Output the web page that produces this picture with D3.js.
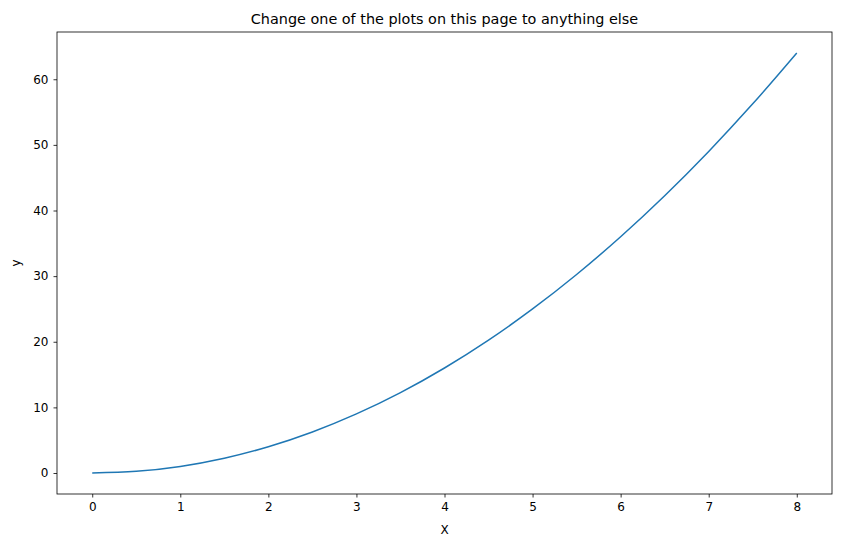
<!DOCTYPE html>
<html>
<head>
<meta charset="utf-8">
<script src="https://d3js.org/d3.v7.min.js"></script>
<style>
  body { margin: 0; background: #fff; }
  text { font-family: "DejaVu Sans", sans-serif; }
</style>
</head>
<body>
<svg width="841" height="547"></svg>
<script>
// values
var xVals = [0, 0.5, 1, 1.5, 2, 2.5, 3, 3.5, 4, 4.5, 5, 5.5, 6, 6.5, 7, 7.5, 8];
var yVals = [0, 0.25, 1, 2.25, 4, 6.25, 9, 12.25, 16, 20.25, 25, 30.25, 36, 42.25, 49, 56.25, 64];
var xTicks = [0, 1, 2, 3, 4, 5, 6, 7, 8];
var yTicks = [0, 10, 20, 30, 40, 50, 60];

var svg = d3.select("svg");
var pLeft = 57, pRight = 832, pTop = 32, pBottom = 494;

var x = d3.scaleLinear().domain([-0.4, 8.4]).range([pLeft, pRight]);
var y = d3.scaleLinear().domain([-3.2, 67.2]).range([pBottom, pTop]);

var line = d3.line().x(d => x(d[0])).y(d => y(d[1])).curve(d3.curveCatmullRom);
svg.append("path")
  .datum(xVals.map((v, i) => [v, yVals[i]]))
  .attr("d", line)
  .attr("fill", "none")
  .attr("stroke", "#1f77b4")
  .attr("stroke-width", 1.5);

var gx = svg.append("g").attr("transform", "translate(0," + pBottom + ")")
  .call(d3.axisBottom(x).tickValues(xTicks).tickSize(3.5).tickPadding(5));
var gy = svg.append("g").attr("transform", "translate(" + pLeft + ",0)")
  .call(d3.axisLeft(y).tickValues(yTicks).tickSize(3.5).tickPadding(5));
[gx, gy].forEach(g => {
  g.select(".domain").remove();
  g.selectAll("text").attr("font-size", 12).attr("fill", "#000")
    .attr("font-family", "DejaVu Sans, sans-serif");
  g.selectAll("line").attr("stroke", "#000").attr("stroke-width", 0.8);
});

svg.append("rect")
  .attr("x", pLeft).attr("y", pTop)
  .attr("width", pRight - pLeft).attr("height", pBottom - pTop)
  .attr("fill", "none").attr("stroke", "#000").attr("stroke-width", 0.8);

svg.append("text").attr("x", (pLeft + pRight) / 2).attr("y", 24)
  .attr("text-anchor", "middle").attr("font-size", 14.4)
  .text("Change one of the plots on this page to anything else");
svg.append("text").attr("x", (pLeft + pRight) / 2).attr("y", 534)
  .attr("text-anchor", "middle").attr("font-size", 12).text("X");
svg.append("text").attr("transform", "translate(20," + (pTop + pBottom) / 2 + ") rotate(-90)")
  .attr("text-anchor", "middle").attr("font-size", 12).text("y");
</script>
</body>
</html>
